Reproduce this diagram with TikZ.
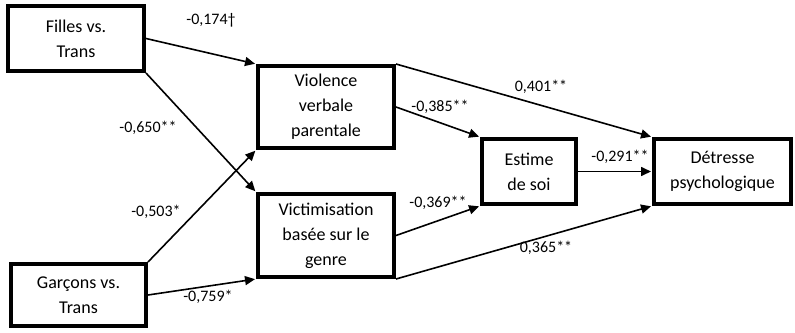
\documentclass[tikz,border=0pt]{standalone}
\usepackage{fontspec}
\setmainfont{Carlito}
\usetikzlibrary{arrows.meta,positioning}

\begin{document}
\begin{tikzpicture}[
  x=1pt, y=-1pt,
  box/.style={rectangle, draw=black, line width=4pt, minimum width=#1, align=center, font=\fontsize{18}{25}\selectfont, inner sep=0pt},
  arrow/.style={-{Triangle[length=10pt,width=9pt]}, line width=1.6pt, shorten >=1pt},
  coef/.style={font=\fontsize{16}{18}\selectfont, inner sep=0pt}
]
\useasboundingbox (0,0) rectangle (795,332);

% Predictors (left column)
\node[box=136pt, minimum height=65pt] (filles) at (76,38.5) {Filles vs.\\Trans};
\node[box=135pt, minimum height=62pt] (garcons) at (78.5,295) {Garçons vs.\\Trans};

% Mediators
\node[box=136pt, minimum height=82pt] (violence) at (326,107) {Violence\\verbale\\parentale};
\node[box=136pt, minimum height=83pt] (victim) at (326,235.5) {Victimisation\\basée sur le\\genre};
\node[box=94pt, minimum height=65pt] (estime) at (529,171.5) {Estime\\de soi};

% Outcome
\node[box=137pt, minimum height=65pt] (detresse) at (722.5,171.5) {Détresse\\psychologique};

% Paths
\draw[arrow] (filles.east) -- (violence.north west);
\draw[arrow] (filles.south east) -- (victim.north west);
\draw[arrow] (garcons.north east) -- (violence.south west);
\draw[arrow] (garcons.east) -- (victim.south west);
\draw[arrow] (violence.north east) -- (detresse.north west);
\draw[arrow] (violence.east) -- (estime.north west);
\draw[arrow] (victim.east) -- (estime.south west);
\draw[arrow] (victim.south east) -- (detresse.south west);
\draw[arrow] (estime.east) -- (detresse.west);

% Coefficients
\node[coef] (c1) at (211,20) {-0,174†};
\node[coef] (c2) at (148,128) {-0,650**};
\node[coef] (c3) at (156,212) {-0,503*};
\node[coef] (c4) at (208,297) {-0,759*};
\node[coef] (c5) at (440,107) {-0,385**};
\node[coef] (c6) at (541,87) {0,401**};
\node[coef] (c7) at (438,203) {-0,369**};
\node[coef] (c8) at (620,157) {-0,291**};
\node[coef] (c9) at (546,248) {0,365**};

\end{tikzpicture}
\end{document}
